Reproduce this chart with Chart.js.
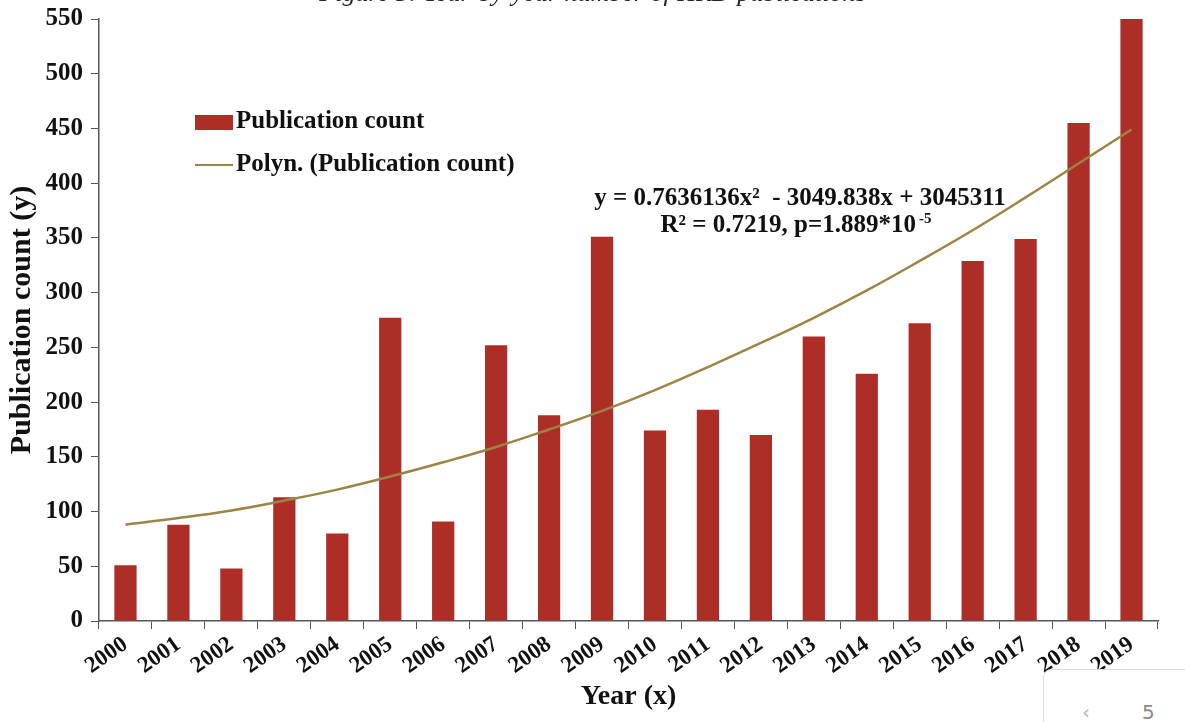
<!DOCTYPE html>
<html>
<head>
<meta charset="utf-8">
<script src="https://cdn.jsdelivr.net/npm/chart.js@4"></script>
<style>
  html,body{margin:0;padding:0;background:#fff;}
  #wrap{position:relative;width:1185px;height:722px;overflow:hidden;}
  #cap{position:absolute;left:0;width:1185px;top:-22px;text-align:center;font:italic 26px "Liberation Serif";color:#222;}
  #pager{position:absolute;left:1043px;top:669px;width:160px;height:70px;border:1px solid #ddd;border-radius:8px;background:#fff;font:20px "DejaVu Sans";color:#888;}
</style>
</head>
<body>
<div id="wrap">
  <canvas id="c" width="1185" height="722"></canvas>
  <div id="cap">Figure 5: Year-by-year number of HRD publications</div>
  <div id="pager"><span style="position:absolute;left:38px;top:30px;color:#bbb">&lsaquo;</span><span style="position:absolute;left:98px;top:30px">5</span></div>
</div>
<script>
const years = ['2000','2001','2002','2003','2004','2005','2006','2007','2008','2009','2010','2011','2012','2013','2014','2015','2016','2017','2018','2019'];
const counts = [51,88,48,113,80,277,91,252,188,351,174,193,170,260,226,272,329,349,455,550];
const trend = [88,94,101,110,120,132,145,159,175,192,211,232,254,277,302,329,357,387,418,449];
const yTicks = [0,50,100,150,200,250,300,350,400,450,500,550];

const serif = 'Liberation Serif';

const overlay = {
  id:'overlay',
  afterDraw(chart){
    const ctx = chart.ctx;
    ctx.save();
    // legend inside plot
    const ds = chart.data.datasets;
    ctx.font = 'bold 25px "'+serif+'"';
    ctx.textBaseline = 'middle';
    ctx.fillStyle = ds[0].backgroundColor;
    ctx.fillRect(195,115,38,15);
    ctx.fillStyle = '#111';
    ctx.fillText(ds[0].label,236,122);
    ctx.strokeStyle = ds[1].borderColor;
    ctx.lineWidth = 2;
    ctx.beginPath(); ctx.moveTo(195,165); ctx.lineTo(233,165); ctx.stroke();
    ctx.fillText(ds[1].label,236,165);
    // equation
    ctx.textAlign = 'center';
    ctx.font = 'bold 25px "'+serif+'"';
    ctx.fillText('y = 0.7636136x²  - 3049.838x + 3045311',800,199);
    const r2 = 'R² = 0.7219, p=1.889*10';
    const w = ctx.measureText(r2).width;
    ctx.font = 'bold 15px "'+serif+'"';
    const ws = ctx.measureText('-5').width + 3;
    const x0 = 796 - (w+ws)/2;
    ctx.textAlign = 'left';
    ctx.font = 'bold 25px "'+serif+'"';
    ctx.fillText(r2,x0,226);
    ctx.font = 'bold 15px "'+serif+'"';
    ctx.fillText('-5',x0+w+3,219);
    ctx.restore();
  }
};

new Chart(document.getElementById('c'),{
  type:'bar',
  data:{
    labels:years,
    datasets:[
      {label:'Publication count', data:counts, backgroundColor:'#ad2e26', barPercentage:0.42, categoryPercentage:1, order:2},
      {type:'line', label:'Polyn. (Publication count)', data:trend, borderColor:'#9c8445', borderWidth:2.5, pointRadius:0, tension:0.4, fill:false, order:1}
    ]
  },
  options:{
    responsive:false,
    animation:false,
    layout:{padding:{left:0,right:27,top:19,bottom:8}},
    plugins:{legend:{display:false},tooltip:{enabled:false}},
    scales:{
      x:{
        offset:true,
        grid:{offset:true,drawOnChartArea:false,tickLength:8,color:'#555'},
        border:{color:'#555',width:1.5},
        ticks:{color:'#111',font:{family:serif,weight:'bold',size:23},autoSkip:false,maxRotation:35,minRotation:35,padding:2},
        title:{display:true,text:'Year (x)',color:'#111',font:{family:serif,weight:'bold',size:28},padding:{top:0,bottom:0}},
        afterFit(s){ s.height = 93; }
      },
      y:{
        min:0,max:550,
        afterBuildTicks(s){ s.ticks = yTicks.map(v=>({value:v})); },
        grid:{drawOnChartArea:false,tickLength:8,color:'#555'},
        border:{color:'#555',width:1.5},
        ticks:{color:'#111',font:{family:serif,weight:'bold',size:25},padding:8},
        title:{display:true,text:'Publication count (y)',color:'#111',font:{family:serif,weight:'bold',size:30},padding:{bottom:4}},
        afterFit(s){ s.width = 99; s.paddingTop = 0; s.paddingBottom = 0; }
      }
    }
  },
  plugins:[overlay]
});
</script>
</body>
</html>
